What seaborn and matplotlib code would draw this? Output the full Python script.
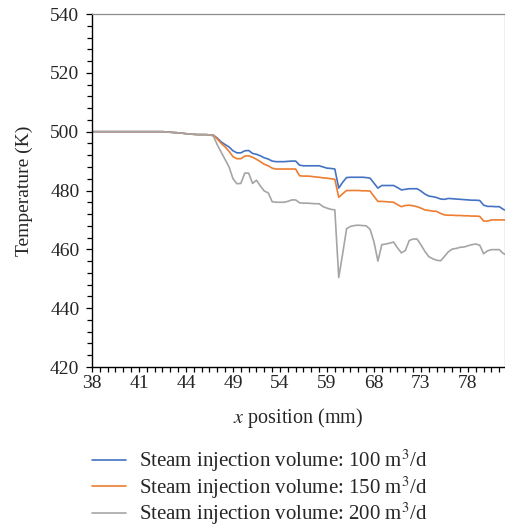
# ======================================================
# Temperature along x position for three steam volumes
# ======================================================

import pandas as pd
import seaborn as sns
import matplotlib.pyplot as plt
from matplotlib.ticker import MultipleLocator

# ======================================================
# DATA (one value per category)
# ======================================================

tick_labels = ["38", "41", "44", "49", "54", "59", "68", "73", "78"]

temp_100 = [
    500.0, 500.0, 500.0, 500.0, 500.0, 500.0, 500.0, 500.0, 500.0, 500.0,
    500.0, 500.0, 500.0, 500.0, 500.0, 500.0, 500.0, 500.0, 500.0, 499.9,
    499.8, 499.7, 499.6, 499.5, 499.3, 499.2, 499.1, 499.0, 499.0, 499.0,
    498.9, 498.8, 497.8, 496.5, 495.6, 494.8, 493.5, 492.8, 492.8, 493.5,
    493.6, 492.6, 492.3, 491.8, 491.1, 490.7, 490.0, 489.8, 489.8, 489.8,
    489.9, 490.0, 490.0, 488.6, 488.4, 488.4, 488.4, 488.4, 488.4, 488.0,
    487.6, 487.5, 487.3, 480.8, 482.8, 484.4, 484.5, 484.5, 484.5, 484.5,
    484.4, 484.2, 482.5, 480.8, 481.7, 481.7, 481.7, 481.7, 481.0, 480.2,
    480.4, 480.6, 480.6, 480.6, 479.8, 478.8, 478.1, 477.9, 477.6, 477.1,
    477.0, 477.3, 477.2, 477.1, 477.0, 476.9, 476.8, 476.7, 476.7, 476.6,
    475.0, 474.6, 474.6, 474.5, 474.5, 473.6, 473.0,
]

temp_150 = [
    500.0, 500.0, 500.0, 500.0, 500.0, 500.0, 500.0, 500.0, 500.0, 500.0,
    500.0, 500.0, 500.0, 500.0, 500.0, 500.0, 500.0, 500.0, 500.0, 499.9,
    499.8, 499.7, 499.6, 499.5, 499.3, 499.2, 499.1, 499.0, 499.0, 499.0,
    498.9, 498.8, 497.5, 496.0, 494.8, 493.3, 491.5, 490.8, 490.8, 491.7,
    491.8, 491.3, 490.6, 489.8, 488.9, 488.4, 487.6, 487.3, 487.3, 487.3,
    487.3, 487.3, 487.3, 485.0, 484.9, 484.9, 484.8, 484.6, 484.5, 484.3,
    484.2, 484.0, 483.8, 477.7, 478.9, 480.0, 480.0, 480.0, 480.0, 479.9,
    479.9, 479.8, 478.0, 476.3, 476.3, 476.2, 476.1, 476.0, 475.2, 474.5,
    474.9, 475.0, 474.8, 474.5, 474.0, 473.4, 473.2, 473.0, 472.9, 472.2,
    471.7, 471.6, 471.6, 471.5, 471.5, 471.4, 471.4, 471.3, 471.3, 471.2,
    469.6, 469.6, 470.0, 470.0, 470.0, 470.0, 469.9,
]

temp_200 = [
    500.0, 500.0, 500.0, 500.0, 500.0, 500.0, 500.0, 500.0, 500.0, 500.0,
    500.0, 500.0, 500.0, 500.0, 500.0, 500.0, 500.0, 500.0, 500.0, 499.9,
    499.8, 499.7, 499.6, 499.5, 499.3, 499.2, 499.1, 499.0, 499.0, 499.0,
    498.9, 498.5, 495.5, 493.0, 490.5, 488.0, 484.0, 482.3, 482.4, 485.9,
    485.9, 482.4, 483.5, 481.5, 479.8, 479.2, 476.2, 476.0, 476.0, 476.0,
    476.3, 476.8, 476.8, 475.8, 475.7, 475.7, 475.6, 475.5, 475.5, 474.5,
    474.0, 473.6, 473.4, 450.4, 458.5, 467.0, 467.8, 468.1, 468.2, 468.1,
    468.0, 466.8, 462.5, 456.0, 461.6, 461.8, 462.1, 462.5, 460.5, 458.8,
    459.6, 463.0, 463.5, 463.5, 461.5, 459.3, 457.5, 456.8, 456.3, 456.1,
    457.6, 459.2, 460.1, 460.3, 460.7, 460.8, 461.2, 461.6, 461.8, 461.4,
    458.5, 459.5, 459.9, 459.9, 459.9, 458.6, 457.9,
]

series_names = [
    "Steam injection volume: 100 m$^3$/d",
    "Steam injection volume: 150 m$^3$/d",
    "Steam injection volume: 200 m$^3$/d",
]
colores = ["#4472C4", "#ED7D31", "#A5A5A5"]

# ======================================================
# TABLA LARGA
# ======================================================

frames = []
for nombre, valores in zip(series_names, [temp_100, temp_150, temp_200]):
    frames.append(pd.DataFrame({
        "pos": range(len(valores)),
        "temp": valores,
        "serie": nombre,
    }))
df = pd.concat(frames, ignore_index=True)

# ======================================================
# FIGURA
# ======================================================

sns.set_style("ticks")
plt.rcParams["font.family"] = ["Liberation Serif", "DejaVu Serif"]
plt.rcParams["mathtext.fontset"] = "stix"

fig = plt.figure(figsize=(5.06, 5.28), dpi=100)
ax = fig.add_axes([92 / 506, 1 - 367 / 528, 413 / 506, 353 / 528])

sns.lineplot(
    data=df, x="pos", y="temp", hue="serie",
    palette=colores, linewidth=1.2, ax=ax, legend=True
)

ax.set_xlim(0, 105.45)
ax.set_ylim(420, 540)

ax.yaxis.set_major_locator(MultipleLocator(20))
ax.yaxis.set_minor_locator(MultipleLocator(4))
ax.xaxis.set_minor_locator(MultipleLocator(2))
ax.set_xticks(range(0, 97, 12), tick_labels)

ax.tick_params(axis="both", which="major", labelsize=14, length=4,
               width=0.9, direction="out", color="black")
ax.tick_params(axis="both", which="minor", length=3.5, width=0.9,
               direction="out", color="black")
ax.tick_params(axis="x", which="major", length=3.5, pad=2)
ax.tick_params(axis="y", which="major", pad=5)

for lado in ["left", "bottom"]:
    ax.spines[lado].set_color("black")
    ax.spines[lado].set_linewidth(1.0)
for lado in ["top", "right"]:
    ax.spines[lado].set_visible(True)
    ax.spines[lado].set_color("#8c8c8c")
    ax.spines[lado].set_linewidth(0.9)

ax.set_xlabel("$x$ position (mm)", fontsize=14.5, labelpad=10)
ax.set_ylabel("Temperature (K)", fontsize=14, labelpad=12)

handles, labels = ax.get_legend_handles_labels()
ax.get_legend().remove()
fig.legend(
    handles, labels, loc="upper left",
    bbox_to_anchor=(92 / 506, 1 - 448 / 528),
    frameon=False, fontsize=15, handlelength=1.63,
    handletextpad=0.63, labelspacing=0.0, borderpad=0,
    borderaxespad=0,
)

plt.savefig("out.png", dpi=100)
plt.close()
